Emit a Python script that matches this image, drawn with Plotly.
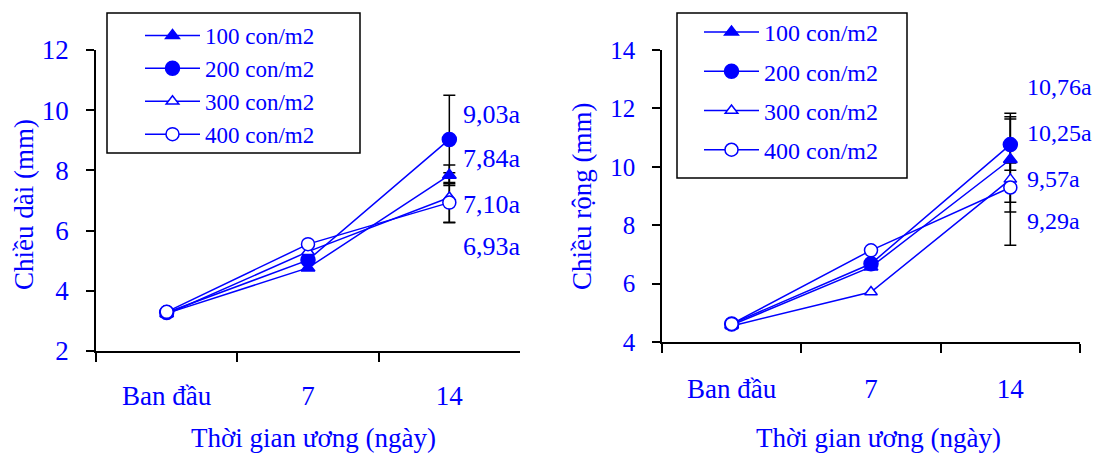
import plotly.graph_objects as go

# ---------------- data ----------------
categories = ["Ban đầu", "7", "14"]
series_names = ["100 con/m2", "200 con/m2", "300 con/m2", "400 con/m2"]

length_100 = [3.25, 4.76, 7.84]
length_200 = [3.28, 5.02, 9.03]
length_300 = [3.22, 5.30, 7.10]
length_400 = [3.30, 5.55, 6.93]
length_err14 = [0.34, 1.47, 0.82, 0.67]
length_labels = ["9,03a", "7,84a", "7,10a", "6,93a"]

width_100 = [4.58, 6.57, 10.25]
width_200 = [4.62, 6.68, 10.76]
width_300 = [4.55, 5.71, 9.57]
width_400 = [4.62, 7.14, 9.29]
width_err14 = [1.46, 0.88, 2.26, 0.84]
width_labels = ["10,76a", "10,25a", "9,57a", "9,29a"]

# ---------------- style ----------------
FONT = "Liberation Serif"
BLUE = "#0000FF"
W, H = 1105, 454
symbols = ["triangle-up", "circle", "triangle-up-open", "circle-open"]
msizes = [12, 14, 11, 13]
label_y_left = [9.87, 8.38, 6.88, 5.47]
label_y_right = [12.73, 11.16, 9.57, 8.13]

fig = go.Figure()

def add_panel(series, errs, xa, ya, legend, grp):
    last = categories[-1]
    # error bars (drawn underneath)
    fig.add_trace(go.Scatter(
        x=[last] * len(series), y=[s[-1] for s in series],
        mode="markers", marker=dict(size=1, opacity=0),
        error_y=dict(type="data", array=errs, visible=True, color="black",
                     thickness=1.5, width=6),
        showlegend=False, hoverinfo="skip", xaxis=xa, yaxis=ya))
    for i, (name, s) in enumerate(zip(series_names, series)):
        open_ = "open" in symbols[i]
        fig.add_trace(go.Scatter(
            x=categories, y=s, name=name, mode="lines+markers",
            line=dict(color=BLUE, width=1.5),
            marker=dict(symbol=symbols[i].replace("-open", ""), size=msizes[i],
                        color="white" if open_ else BLUE,
                        line=dict(color=BLUE, width=1.5)),
            legend=legend, legendgroup=f"{grp}{i}",
            xaxis=xa, yaxis=ya))

add_panel([length_100, length_200, length_300, length_400], length_err14,
          "x", "y", "legend", "L")
add_panel([width_100, width_200, width_300, width_400], width_err14,
          "x2", "y2", "legend2", "R")

def xax(domain, fs, anchor, standoff):
    return dict(domain=domain, type="category", categoryorder="array",
                categoryarray=categories, range=[-0.5, 2.5], anchor=anchor,
                tickson="boundaries", ticks="outside", ticklen=9, tickwidth=1.5,
                tickcolor="black", showline=True, linecolor="black", linewidth=1.5,
                showgrid=False, zeroline=False, ticklabelstandoff=standoff,
                tickfont=dict(family=FONT, size=fs, color=BLUE))

def yax(domain, rng, fs, anchor):
    return dict(domain=domain, range=rng, dtick=2, ticks="outside", ticklen=8,
                tickwidth=1.5, tickcolor="black", showline=True, linecolor="black",
                linewidth=1.5, showgrid=False, zeroline=False, anchor=anchor,
                ticklabelstandoff=12,
                tickfont=dict(family=FONT, size=fs, color=BLUE))

fig.update_layout(
    width=W, height=H, margin=dict(l=0, r=0, t=0, b=0, autoexpand=False),
    paper_bgcolor="white", plot_bgcolor="white",
    xaxis=xax([96 / W, 520 / W], 27, "y", 20),
    yaxis=yax([1 - 351 / H, 1 - 50 / H], [2, 12], 27, "x"),
    xaxis2=xax([662 / W, 1080 / W], 27, "y2", 22),
    yaxis2=yax([1 - 342 / H, 1 - 50 / H], [4, 14], 25, "x2"),
    legend=dict(x=140 / W, y=1 - 14 / H, xanchor="left", yanchor="top",
                bgcolor="rgba(0,0,0,0)", borderwidth=0, traceorder="grouped",
                tracegroupgap=0, itemwidth=55,
                font=dict(family=FONT, size=23, color=BLUE)),
    legend2=dict(x=699 / W, y=1 - 10 / H, xanchor="left", yanchor="top",
                 bgcolor="rgba(0,0,0,0)", borderwidth=0, traceorder="grouped",
                 tracegroupgap=5, itemwidth=55,
                 font=dict(family=FONT, size=24, color=BLUE)),
    showlegend=True,
)

# legend frames
fig.add_shape(type="rect", xref="paper", yref="paper",
              x0=107 / W, x1=360 / W, y0=1 - 153 / H, y1=1 - 13 / H,
              line=dict(color="black", width=1.5), fillcolor="white", layer="below")
fig.add_shape(type="rect", xref="paper", yref="paper",
              x0=677 / W, x1=907 / W, y0=1 - 178 / H, y1=1 - 13 / H,
              line=dict(color="black", width=1.5), fillcolor="white", layer="below")

# value labels
idx = len(categories) - 1
for txt, yy in zip(length_labels, label_y_left):
    fig.add_annotation(x=idx, y=yy, xref="x", yref="y", text=txt, showarrow=False,
                       xanchor="left", yanchor="middle", xshift=12,
                       font=dict(family=FONT, size=26, color=BLUE))
for txt, yy in zip(width_labels, label_y_right):
    fig.add_annotation(x=idx, y=yy, xref="x2", yref="y2", text=txt, showarrow=False,
                       xanchor="left", yanchor="middle", xshift=15,
                       font=dict(family=FONT, size=24, color=BLUE))

# axis titles
for xc in (313, 878):
    fig.add_annotation(x=xc / W, y=1 - 438 / H, xref="paper", yref="paper",
                       xanchor="center", yanchor="middle",
                       text="Thời gian ương (ngày)", showarrow=False,
                       font=dict(family=FONT, size=27, color=BLUE))
fig.add_annotation(x=24 / W, y=1 - 205 / H, xref="paper", yref="paper",
                   xanchor="center", yanchor="middle",
                   text="Chiều dài (mm)", textangle=-90, showarrow=False,
                   font=dict(family=FONT, size=27, color=BLUE))
fig.add_annotation(x=582 / W, y=1 - 197 / H, xref="paper", yref="paper",
                   xanchor="center", yanchor="middle",
                   text="Chiều rộng (mm)", textangle=-90, showarrow=False,
                   font=dict(family=FONT, size=27, color=BLUE))

fig.write_html("out.html")
